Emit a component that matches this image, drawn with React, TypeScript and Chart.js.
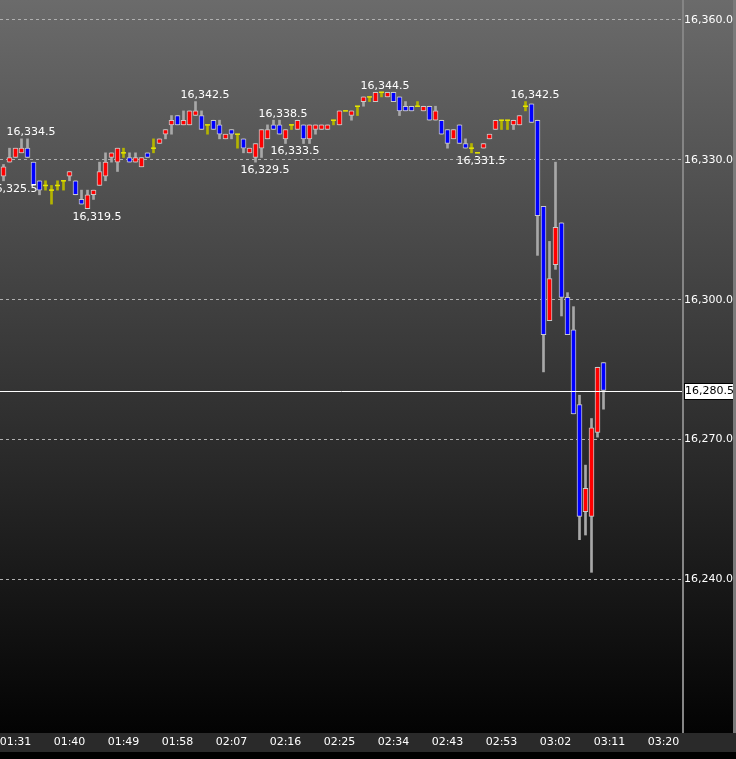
import React, { useEffect, useRef } from 'react';
import { Chart, registerables } from 'chart.js';

Chart.register(...registerables);

// One-minute candles, oldest first
const opens = [
  16326.5, 16329.5, 16330.5, 16331.5, 16332.5, 16329.5, 16325.5, 16324.5, 16323.5, 16324.5,
  16325.5, 16326.5, 16325.5, 16321.5, 16319.5, 16322.5, 16324.5, 16326.5, 16330.5, 16329.5,
  16331.5, 16330.5, 16329.5, 16328.5, 16331.5, 16332.5, 16333.5, 16335.5, 16337.5, 16339.5,
  16337.5, 16337.5, 16339.5, 16339.5, 16337.5, 16338.5, 16337.5, 16334.5, 16336.5, 16335.5,
  16334.5, 16331.5, 16330.5, 16332.5, 16334.5, 16337.5, 16337.5, 16334.5, 16337.5, 16336.5,
  16337.5, 16334.5, 16336.5, 16336.5, 16336.5, 16338.5, 16337.5, 16340.5, 16339.5, 16341.5,
  16342.5, 16343.5, 16342.5, 16344.5, 16343.5, 16344.5, 16343.5, 16341.5, 16341.5, 16341.5,
  16340.5, 16341.5, 16338.5, 16338.5, 16336.5, 16334.5, 16337.5, 16333.5, 16332.5, 16331.5,
  16332.5, 16334.5, 16336.5, 16338.5, 16338.5, 16337.5, 16337.5, 16341.5, 16342.0, 16338.5,
  16320.0, 16295.5, 16307.5, 16316.5, 16300.5, 16293.5, 16277.5, 16254.5, 16253.5, 16271.5,
  16286.5,
];
const highs = [
  16329.0, 16332.5, 16332.5, 16334.5, 16334.5, 16329.5, 16325.5, 16325.5, 16324.5, 16325.5,
  16325.5, 16327.5, 16325.5, 16323.5, 16323.5, 16323.5, 16329.5, 16331.5, 16331.5, 16332.5,
  16332.5, 16331.5, 16331.5, 16330.5, 16331.5, 16334.5, 16334.5, 16336.5, 16339.5, 16339.5,
  16340.5, 16340.5, 16342.5, 16340.5, 16337.5, 16338.5, 16338.5, 16335.5, 16336.5, 16335.5,
  16334.5, 16332.5, 16333.5, 16336.5, 16337.5, 16338.5, 16338.5, 16336.5, 16337.5, 16338.5,
  16337.5, 16337.5, 16337.5, 16337.5, 16337.5, 16338.5, 16340.5, 16340.5, 16340.5, 16341.5,
  16343.5, 16343.5, 16344.5, 16344.5, 16344.5, 16344.5, 16343.5, 16342.5, 16341.5, 16342.5,
  16341.5, 16341.5, 16341.5, 16338.5, 16336.5, 16336.5, 16337.5, 16334.5, 16333.5, 16331.5,
  16333.5, 16335.5, 16338.5, 16338.5, 16338.5, 16338.5, 16339.5, 16342.5, 16342.0, 16338.5,
  16320.0, 16312.5, 16329.5, 16316.5, 16301.5, 16298.5, 16279.5, 16264.5, 16274.5, 16285.5,
  16286.5,
];
const lows = [
  16325.5, 16329.5, 16330.5, 16331.5, 16330.5, 16324.5, 16322.5, 16323.5, 16320.5, 16323.5,
  16323.5, 16325.5, 16322.5, 16320.5, 16319.5, 16321.5, 16324.5, 16325.5, 16329.5, 16327.5,
  16330.5, 16329.5, 16329.5, 16328.5, 16330.5, 16331.5, 16333.5, 16334.5, 16335.5, 16337.5,
  16337.5, 16337.5, 16339.5, 16336.5, 16335.5, 16336.5, 16334.5, 16334.5, 16334.5, 16332.5,
  16331.5, 16331.5, 16329.5, 16330.5, 16334.5, 16336.5, 16335.5, 16333.5, 16336.5, 16336.5,
  16333.5, 16333.5, 16335.5, 16336.5, 16336.5, 16337.5, 16337.5, 16340.5, 16338.5, 16339.5,
  16341.5, 16342.5, 16342.5, 16343.5, 16343.5, 16342.5, 16339.5, 16340.5, 16340.5, 16341.5,
  16340.5, 16338.5, 16338.5, 16335.5, 16332.5, 16334.5, 16333.5, 16332.5, 16331.5, 16331.5,
  16332.5, 16334.5, 16336.5, 16336.5, 16336.5, 16336.5, 16337.5, 16340.5, 16338.0, 16309.5,
  16284.5, 16295.5, 16306.5, 16296.5, 16292.5, 16275.5, 16248.5, 16249.5, 16241.5, 16270.5,
  16276.5,
];
const closes = [
  16328.5, 16330.5, 16332.5, 16332.5, 16330.5, 16324.5, 16323.5, 16324.5, 16323.5, 16324.5,
  16325.5, 16327.5, 16322.5, 16320.5, 16322.5, 16323.5, 16327.5, 16329.5, 16331.5, 16332.5,
  16331.5, 16329.5, 16330.5, 16330.5, 16330.5, 16332.5, 16334.5, 16336.5, 16338.5, 16337.5,
  16338.5, 16340.5, 16340.5, 16336.5, 16337.5, 16336.5, 16335.5, 16335.5, 16335.5, 16335.5,
  16332.5, 16332.5, 16333.5, 16336.5, 16336.5, 16336.5, 16335.5, 16336.5, 16337.5, 16338.5,
  16334.5, 16337.5, 16337.5, 16337.5, 16337.5, 16338.5, 16340.5, 16340.5, 16340.5, 16341.5,
  16343.5, 16343.5, 16344.5, 16344.5, 16344.5, 16342.5, 16340.5, 16340.5, 16340.5, 16341.5,
  16341.5, 16338.5, 16340.5, 16335.5, 16333.5, 16336.5, 16333.5, 16332.5, 16332.5, 16331.5,
  16333.5, 16335.5, 16338.5, 16338.5, 16338.5, 16338.5, 16339.5, 16341.5, 16338.0, 16318.0,
  16292.5, 16304.5, 16315.5, 16300.5, 16292.5, 16275.5, 16253.5, 16259.5, 16272.5, 16285.5,
  16280.5,
];

// time axis labels (every 9 bars)
const xTickIndex = [2, 11, 20, 29, 38, 47, 56, 65, 74, 83, 92, 101, 110];
const xTickLabels = ['01:31', '01:40', '01:49', '01:58', '02:07', '02:16', '02:25', '02:34', '02:43', '02:53', '03:02', '03:11', '03:20'];
// price axis labels
const yTicks = [16240, 16270, 16300, 16330, 16360];

// high / low marks
const markIndex = [0, 3, 14, 32, 42, 45, 47, 62, 78, 87];
const markSide = ['low', 'high', 'low', 'high', 'low', 'high', 'low', 'high', 'low', 'high'];

const fmt = (v: number) => {
  const fixed = v.toFixed(1);
  const [intPart, dec] = fixed.split('.');
  return intPart.replace(/\B(?=(\d{3})+(?!\d))/g, ',') + '.' + dec;
};

const FONT = { family: 'DejaVu Sans', size: 11 };

export default function App() {
  const ref = useRef<HTMLCanvasElement>(null);

  useEffect(() => {
    document.body.style.margin = '0';
    document.body.style.background = '#000';
    const n = closes.length;
    const idx = closes.map((_, i) => i);
    const isDoji = idx.map((i) => opens[i] === closes[i]);

    const wickData = idx.map((i) => ({ x: i, y: [lows[i], highs[i]] }));
    const wickColors = idx.map((i) => (isDoji[i] ? '#b4b400' : '#a8a8a8'));
    const bodyData = idx.filter((i) => !isDoji[i]).map((i) => ({ x: i, y: [opens[i], closes[i]] }));
    const bodyColors = idx.filter((i) => !isDoji[i]).map((i) => (closes[i] > opens[i] ? '#ff0000' : '#0000ff'));
    const dojiData = idx.filter((i) => isDoji[i]).map((i) => ({ x: i, y: opens[i] }));

    const deco = {
      id: 'deco',
      beforeDraw(chart: any) {
        const { ctx, width, height, chartArea } = chart;
        ctx.save();
        ctx.fillStyle = '#000';
        ctx.fillRect(0, 0, width, height);
        const g = ctx.createLinearGradient(0, 0, 0, chartArea.bottom);
        g.addColorStop(0, '#6b6b6b');
        g.addColorStop(1, '#030303');
        ctx.fillStyle = g;
        ctx.fillRect(0, 0, width, chartArea.bottom + 1);
        ctx.fillStyle = '#2a2a2a';
        ctx.fillRect(0, chartArea.bottom + 1, width, 19);
        ctx.restore();
      },
      afterDatasetsDraw(chart: any) {
        const { ctx, chartArea, scales } = chart;
        const xs = scales.x;
        const ys = scales.y;
        ctx.save();
        // last price line
        const py = Math.round(ys.getPixelForValue(closes[n - 1])) + 0.5;
        ctx.strokeStyle = '#ffffff';
        ctx.lineWidth = 1;
        ctx.beginPath();
        ctx.moveTo(chartArea.left, py);
        ctx.lineTo(chartArea.right, py);
        ctx.stroke();
        // high / low labels
        ctx.font = `${FONT.size}px "${FONT.family}"`;
        ctx.fillStyle = '#ffffff';
        ctx.textAlign = 'left';
        ctx.textBaseline = 'middle';
        markIndex.forEach((i, k) => {
          const hi = markSide[k] === 'high';
          const v = hi ? highs[i] : lows[i];
          const x = xs.getPixelForValue(i);
          const y = ys.getPixelForValue(v);
          ctx.fillText(fmt(v), x - 15, hi ? y - 6.5 : y + 8);
        });
        ctx.restore();
      },
      afterDraw(chart: any) {
        const { ctx, chartArea, scales, width } = chart;
        const ys = scales.y;
        ctx.save();
        // separators
        ctx.fillStyle = '#858585';
        ctx.fillRect(chartArea.right - 1, 0, 2, chartArea.bottom + 1);
        // last price box
        const py = Math.round(ys.getPixelForValue(closes[n - 1]));
        ctx.fillStyle = '#ffffff';
        ctx.fillRect(chartArea.right + 1, py - 8, width - chartArea.right - 1, 17);
        ctx.strokeStyle = '#000000';
        ctx.lineWidth = 1;
        ctx.strokeRect(chartArea.right + 1.5, py - 7.5, width - chartArea.right, 16);
        ctx.fillStyle = '#000000';
        ctx.font = `${FONT.size}px "${FONT.family}"`;
        ctx.textAlign = 'left';
        ctx.textBaseline = 'middle';
        ctx.fillText(fmt(closes[n - 1]), chartArea.right + 2, py + 0.5);
        ctx.fillStyle = '#7a7a7a';
        ctx.fillRect(width - 3, 0, 3, chartArea.bottom + 1);
        ctx.restore();
      },
    };

    const chart = new Chart(ref.current!, {
      type: 'bar',
      data: {
        datasets: [
          {
            type: 'scatter',
            data: dojiData,
            pointStyle: 'line',
            pointRadius: 2.5,
            pointBorderWidth: 1.5,
            pointBorderColor: '#e6e600',
            pointBackgroundColor: '#e6e600',
            order: 1,
          } as any,
          {
            data: bodyData as any,
            backgroundColor: bodyColors,
            borderColor: '#c8c8c8',
            borderWidth: 1,
            borderSkipped: false,
            barThickness: 5,
            grouped: false,
            order: 2,
          },
          {
            data: wickData as any,
            backgroundColor: wickColors,
            borderWidth: 0,
            barThickness: 2,
            grouped: false,
            order: 3,
          },
        ],
      },
      options: {
        responsive: false,
        animation: false,
        events: [],
        layout: { padding: 0, autoPadding: false },
        plugins: { legend: { display: false }, tooltip: { enabled: false } },
        scales: {
          x: {
            type: 'linear',
            min: -3.5 / 6,
            max: -3.5 / 6 + 683 / 6,
            offset: false,
            grid: { display: false, drawTicks: false },
            border: { display: false },
            ticks: {
              color: '#ffffff',
              font: FONT,
              padding: 4,
              autoSkip: false,
              maxRotation: 0,
              callback: (v: any) => {
                const k = xTickIndex.indexOf(Number(v));
                return k >= 0 ? xTickLabels[k] : '';
              },
            },
            afterBuildTicks: (s: any) => {
              s.ticks = xTickIndex.map((v) => ({ value: v }));
            },
            afterFit: (s: any) => {
              s.height = 27;
              s.paddingLeft = 0;
              s.paddingRight = 0;
            },
          },
          y: {
            type: 'linear',
            position: 'right',
            min: 16207.24,
            max: 16364.29,
            grid: { color: '#b0b0b0', lineWidth: 1, drawTicks: false },
            border: { display: false, dash: [3, 3] },
            ticks: {
              color: '#ffffff',
              font: FONT,
              padding: 1,
              callback: (v: any) => fmt(Number(v)),
            },
            afterBuildTicks: (s: any) => {
              s.ticks = yTicks.map((v) => ({ value: v }));
            },
            afterFit: (s: any) => {
              s.width = 53;
              s.paddingTop = 0;
              s.paddingBottom = 0;
            },
          },
        },
      },
      plugins: [deco],
    } as any);

    return () => chart.destroy();
  }, []);

  return (
    <div style={{ width: 736, height: 759 }}>
      <canvas ref={ref} width={736} height={759} style={{ display: 'block', width: 736, height: 759 }} />
    </div>
  );
}
